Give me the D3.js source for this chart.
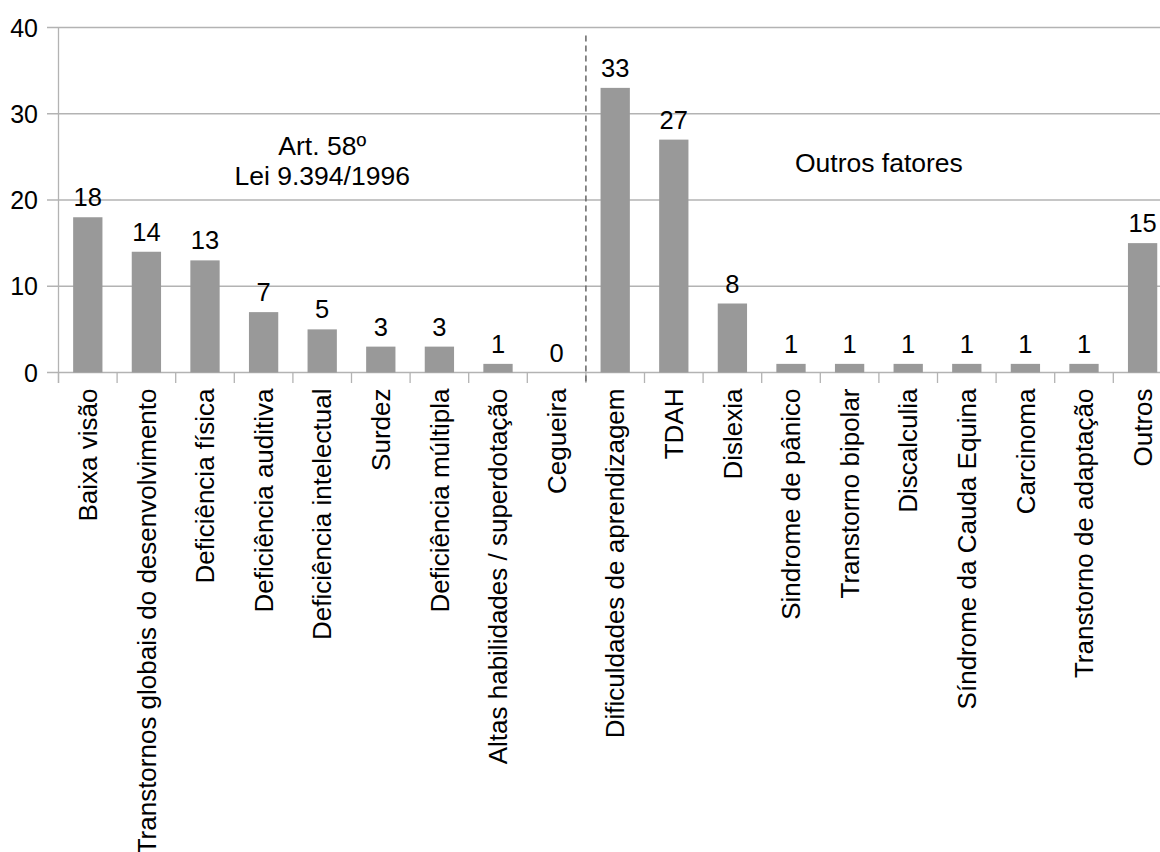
<!DOCTYPE html>
<html lang="pt">
<head>
<meta charset="utf-8">
<title>Fatores</title>
<script src="https://cdn.jsdelivr.net/npm/d3@7"></script>
<style>
  body { margin: 0; background: #fff; }
  svg { display: block; font-family: "Liberation Sans", Arial, sans-serif; }
</style>
</head>
<body>
<svg id="chart" width="1160" height="852"></svg>
<script>

const categories = [
  "Baixa visão", "Transtornos globais do desenvolvimento", "Deficiência física",
  "Deficiência auditiva", "Deficiência intelectual", "Surdez", "Deficiência múltipla",
  "Altas habilidades / superdotação", "Cegueira",
  "Dificuldades de aprendizagem", "TDAH", "Dislexia", "Sindrome de pânico",
  "Transtorno bipolar", "Discalculia", "Síndrome da Cauda Equina", "Carcinoma",
  "Transtorno de adaptação", "Outros"
];
const values = [18, 14, 13, 7, 5, 3, 3, 1, 0, 33, 27, 8, 1, 1, 1, 1, 1, 1, 15];
const yTicks = [0, 10, 20, 30, 40];
// groups: first 9 come from the law, the rest are other factors
const groups = [
  {lines: ["Art. 58º", "Lei 9.394/1996"], from: 0, to: 9, at: 25.2},
  {lines: ["Outros fatores"], from: 9, to: 19, at: 23.2}
];

const plotLeft = 58.5, plotTop = 27.5, plotBottom = 372.5, step = 58.6;

const svg = d3.select('#chart');

const x = d3.scaleBand()
  .domain(categories)
  .range([plotLeft, plotLeft + step * categories.length])
  .paddingInner(0.5)
  .paddingOuter(0.25);

const y = d3.scaleLinear().domain([0, 40]).range([plotBottom, plotTop]);

const edge = i => plotLeft + x.step() * i;

// gridlines + y ticks
svg.append('g').selectAll('line')
  .data(yTicks)
  .enter().append('line')
  .attr('x1', plotLeft - 11.5).attr('x2', 1160)
  .attr('y1', d => y(d)).attr('y2', d => y(d))
  .attr('stroke', '#b3b3b3').attr('stroke-width', 1.3);

svg.append('g').selectAll('text')
  .data(yTicks)
  .enter().append('text')
  .attr('x', plotLeft - 20.5)
  .attr('y', d => y(d))
  .attr('dy', '0.36em')
  .attr('text-anchor', 'end')
  .attr('font-size', 25)
  .text(d => d);

// left axis
svg.append('line')
  .attr('x1', plotLeft).attr('x2', plotLeft)
  .attr('y1', plotTop).attr('y2', plotBottom + 10.5)
  .attr('stroke', '#b3b3b3').attr('stroke-width', 1.3);

// x ticks at band edges
svg.append('g').selectAll('line')
  .data(d3.range(categories.length + 1))
  .enter().append('line')
  .attr('x1', i => edge(i)).attr('x2', i => edge(i))
  .attr('y1', plotBottom).attr('y2', plotBottom + 10.5)
  .attr('stroke', '#b3b3b3').attr('stroke-width', 1.3);

// bars
svg.append('g').selectAll('rect')
  .data(values)
  .enter().append('rect')
  .attr('x', (d, i) => x(categories[i]))
  .attr('width', x.bandwidth())
  .attr('y', d => y(d))
  .attr('height', d => plotBottom - y(d))
  .attr('fill', '#999999');

// value labels
svg.append('g').selectAll('text')
  .data(values)
  .enter().append('text')
  .attr('x', (d, i) => x(categories[i]) + x.bandwidth() / 2)
  .attr('y', d => y(d) - 11)
  .attr('text-anchor', 'middle')
  .attr('font-size', 25.5)
  .text(d => d);

// category labels
svg.append('g').selectAll('text')
  .data(categories)
  .enter().append('text')
  .attr('transform', d => 'translate(' + (x(d) + x.bandwidth() / 2) + ',' + (plotBottom + 16) + ') rotate(-90)')
  .attr('dy', '0.35em')
  .attr('text-anchor', 'end')
  .attr('font-size', 26)
  .text(d => d);

// dashed divider
svg.append('line')
  .attr('x1', edge(9)).attr('x2', edge(9))
  .attr('y1', plotTop + 8).attr('y2', plotBottom + 10.5)
  .attr('stroke', '#666').attr('stroke-width', 1.5)
  .attr('stroke-dasharray', '6,4');

// group annotations
groups.forEach(g => {
  const t = svg.append('text')
    .attr('text-anchor', 'middle')
    .attr('font-size', 26.5)
    .attr('x', (edge(g.from) + edge(g.to)) / 2)
    .attr('y', y(g.at));
  g.lines.forEach((l, i) => {
    t.append('tspan')
      .attr('x', (edge(g.from) + edge(g.to)) / 2)
      .attr('dy', i === 0 ? 0 : 30)
      .text(l);
  });
});

</script>
</body>
</html>
